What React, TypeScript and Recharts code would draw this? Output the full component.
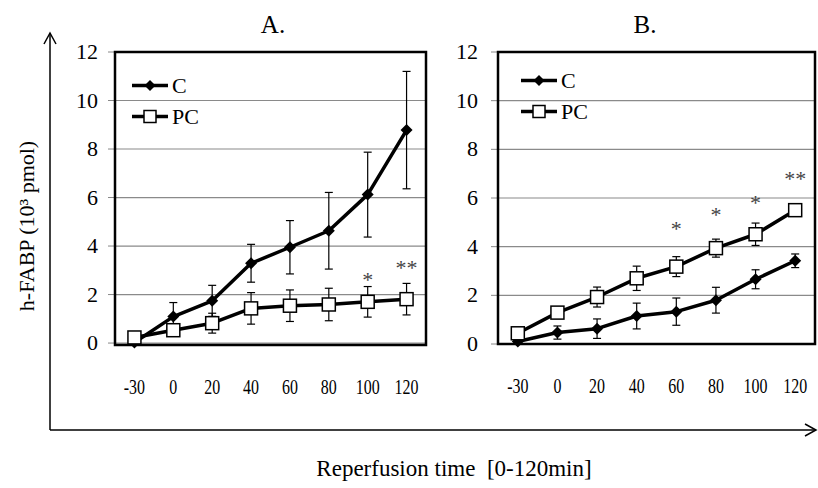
import React from 'react';
import {
  LineChart,
  Line,
  XAxis,
  YAxis,
  CartesianGrid,
  ErrorBar,
  Legend,
  LabelList,
} from 'recharts';

const serif = '"Liberation Serif", "Times New Roman", serif';

// reperfusion time points (min)
const times = ['-30', '0', '20', '40', '60', '80', '100', '120'];

// panel A
const cA = [0.02, 1.09, 1.74, 3.29, 3.95, 4.63, 6.12, 8.78];
const cAErr = [0.1, 0.58, 0.64, 0.78, 1.1, 1.58, 1.75, 2.42];
const pcA = [0.23, 0.53, 0.82, 1.43, 1.54, 1.59, 1.7, 1.81];
const pcAErr = [0.1, 0.2, 0.41, 0.65, 0.65, 0.67, 0.63, 0.65];
const sigLevelA = [null, null, null, null, null, null, 2.8, 3.3];
const sigMarkA = ['', '', '', '', '', '', '*', '**'];

// panel B
const cB = [0.1, 0.47, 0.63, 1.15, 1.33, 1.8, 2.66, 3.42];
const cBErr = [0.1, 0.27, 0.4, 0.53, 0.56, 0.53, 0.39, 0.28];
const pcB = [0.44, 1.29, 1.93, 2.7, 3.18, 3.94, 4.51, 5.5];
const pcBErr = [0.1, 0.2, 0.41, 0.5, 0.41, 0.37, 0.46, 0.2];
const sigLevelB = [null, null, null, null, 4.95, 5.5, 6.02, 7.0];
const sigMarkB = ['', '', '', '', '*', '*', '*', '**'];

const yTicks = [0, 2, 4, 6, 8, 10, 12];

const buildRows = (
  c: number[],
  cErr: number[],
  pc: number[],
  pcErr: number[],
  sig: (number | null)[],
) =>
  times.map((t, i) => ({
    t,
    C: c[i],
    cErr: cErr[i],
    PC: pc[i],
    pcErr: pcErr[i],
    sig: sig[i],
  }));

const dataA = buildRows(cA, cAErr, pcA, pcAErr, sigLevelA);
const dataB = buildRows(cB, cBErr, pcB, pcBErr, sigLevelB);

const DiamondDot = (props: any) => {
  const { cx, cy } = props;
  if (cx == null || cy == null) return null;
  const r = 6;
  return (
    <polygon
      points={`${cx},${cy - r} ${cx + r},${cy} ${cx},${cy + r} ${cx - r},${cy}`}
      fill="#000"
    />
  );
};

const SquareDot = (props: any) => {
  const { cx, cy } = props;
  if (cx == null || cy == null) return null;
  return (
    <rect
      x={cx - 6.5}
      y={cy - 6.5}
      width={13}
      height={13}
      fill="#fff"
      stroke="#000"
      strokeWidth={1.5}
    />
  );
};

const XTick = (props: any) => {
  const { x, y, payload } = props;
  if (x === undefined || y === undefined || !payload) return null;
  return (
    <g transform={`translate(${x},${y})`}>
      <text
        y={49}
        textAnchor="middle"
        fontSize={21}
        fontFamily={serif}
        fill="#000"
        transform="scale(0.76,1)"
      >
        {payload.value}
      </text>
    </g>
  );
};

const YTick = (props: any) => {
  const { x, y, payload } = props;
  if (x === undefined || y === undefined || !payload) return null;
  return (
    <text
      x={x}
      y={y}
      dy={7}
      textAnchor="end"
      fontSize={22}
      fontFamily={serif}
      fill="#000"
    >
      {payload.value}
    </text>
  );
};

const starLabel = (marks: string[]) => (props: any) => {
  const { x, y, index } = props;
  const txt = marks[index];
  if (!txt || x == null || y == null) return null;
  return (
    <text
      x={x}
      y={y + 12}
      textAnchor="middle"
      fontSize={22}
      fontFamily={serif}
      fill="#444"
    >
      {txt}
    </text>
  );
};

const LegendIcon = ({ kind }: { kind: string }) => (
  <svg width={38} height={31} style={{ display: 'block' }}>
    <line x1={1} y1={15.5} x2={37} y2={15.5} stroke="#000" strokeWidth={3.5} />
    {kind === 'C' ? (
      <polygon points="19,10 24.5,15.5 19,21 13.5,15.5" fill="#000" />
    ) : (
      <rect x={13} y={9.5} width={12} height={12} fill="#fff" stroke="#000" strokeWidth={1.5} />
    )}
  </svg>
);

const LegendBox = (props: any) => {
  const items = (props.payload || []).filter((p: any) => p.type !== 'none');
  return (
    <div style={{ fontFamily: serif, fontSize: 22, lineHeight: '31px' }}>
      {items.map((p: any) => (
        <div key={p.value} style={{ display: 'flex', alignItems: 'center', height: 31 }}>
          <LegendIcon kind={p.value} />
          <span style={{ marginLeft: 3 }}>{p.value}</span>
        </div>
      ))}
    </div>
  );
};

interface Box {
  left: number;
  top: number;
  right: number;
  bottom: number;
}

const CHART_H = 420;
const X_AXIS_H = 60;

// plot frames (page coordinates)
const boxA: Box = { left: 115, top: 52, right: 426, bottom: 345 };
const boxB: Box = { left: 498, top: 52, right: 815, bottom: 344 };

interface PanelProps {
  data: any[];
  box: Box;
  originX: number;
  width: number;
  marks: string[];
  legendPos: { left: number; top: number };
  tickMargin: number;
}

const Panel = ({ data, box, originX, width, marks, legendPos, tickMargin }: PanelProps) => {
  const yw = box.left - originX;
  // half a category band on each side, like a column-style category axis
  const pad = (box.right - box.left) / (data.length * 2);
  return (
    <div style={{ position: 'absolute', left: originX, top: 0 }}>
      <LineChart
        width={width}
        height={CHART_H}
        data={data}
        margin={{
          top: box.top,
          right: originX + width - box.right,
          bottom: CHART_H - box.bottom - X_AXIS_H,
          left: 0,
        }}
      >
        <CartesianGrid vertical={false} stroke="#8a8a8a" strokeWidth={1.2} />
        <XAxis
          dataKey="t"
          height={X_AXIS_H}
          axisLine={false}
          tickLine={false}
          tickSize={0}
          tickMargin={0}
          interval={0}
          padding={{ left: pad, right: pad }}
          tick={<XTick />}
        />
        <YAxis
          width={yw}
          domain={[0, 12]}
          ticks={yTicks}
          interval={0}
          axisLine={false}
          tickLine={{ stroke: '#888' }}
          tickSize={7}
          tickMargin={tickMargin}
          tick={<YTick />}
        />
        <Legend
          layout="vertical"
          align="center"
          verticalAlign="middle"
          content={<LegendBox />}
          wrapperStyle={{ position: 'absolute', left: legendPos.left, top: legendPos.top, width: 'auto' }}
        />
        <Line
          dataKey="C"
          name="C"
          type="linear"
          stroke="#000"
          strokeWidth={3.5}
          strokeLinejoin="round"
          dot={<DiamondDot />}
          activeDot={false}
          isAnimationActive={false}
        >
          <ErrorBar dataKey="cErr" width={4} stroke="#000" strokeWidth={1.2} />
        </Line>
        <Line
          dataKey="PC"
          name="PC"
          type="linear"
          stroke="#000"
          strokeWidth={3.5}
          strokeLinejoin="round"
          dot={<SquareDot />}
          activeDot={false}
          isAnimationActive={false}
        >
          <ErrorBar dataKey="pcErr" width={4} stroke="#000" strokeWidth={1.2} />
        </Line>
        <Line
          dataKey="sig"
          stroke="none"
          dot={false}
          activeDot={false}
          legendType="none"
          isAnimationActive={false}
        >
          <LabelList dataKey="sig" content={starLabel(marks)} />
        </Line>
      </LineChart>
    </div>
  );
};

const frame = (b: Box) => (
  <rect
    x={b.left}
    y={b.top}
    width={b.right - b.left}
    height={b.bottom - b.top}
    fill="none"
    stroke="#000"
    strokeWidth={2.5}
  />
);

export default function App() {
  return (
    <div
      style={{
        position: 'absolute',
        left: 0,
        top: 0,
        width: 818,
        height: 488,
        background: '#fff',
        overflow: 'hidden',
        fontFamily: serif,
      }}
    >
      <Panel
        data={dataA}
        box={boxA}
        originX={0}
        width={440}
        marks={sigMarkA}
        legendPos={{ left: 131, top: 70 }}
        tickMargin={10}
      />
      <Panel
        data={dataB}
        box={boxB}
        originX={440}
        width={378}
        marks={sigMarkB}
        legendPos={{ left: 80, top: 65 }}
        tickMargin={13}
      />
      <svg
        width={818}
        height={488}
        style={{ position: 'absolute', left: 0, top: 0, pointerEvents: 'none' }}
      >
        {frame(boxA)}
        {frame(boxB)}
        {/* outer axes with arrows */}
        <g stroke="#000" strokeWidth={1.5} fill="none">
          <line x1={50} y1={430} x2={50} y2={33} />
          <polyline points="44,44 50,33 56,44" />
          <line x1={50} y1={430} x2={815} y2={430} />
          <polyline points="805,424 816,430 805,436" />
        </g>
        <text x={273} y={33} textAnchor="middle" fontSize={25} fontFamily={serif}>
          A.
        </text>
        <text x={645} y={33} textAnchor="middle" fontSize={25} fontFamily={serif}>
          B.
        </text>
        <text
          transform="translate(34,226) rotate(-90)"
          textAnchor="middle"
          fontSize={22}
          fontFamily={serif}
        >
          h-FABP (10³ pmol)
        </text>
        <text x={454} y={476} textAnchor="middle" fontSize={23} fontFamily={serif}>
          Reperfusion time{'\u00a0'} [0-120min]
        </text>
      </svg>
    </div>
  );
}
